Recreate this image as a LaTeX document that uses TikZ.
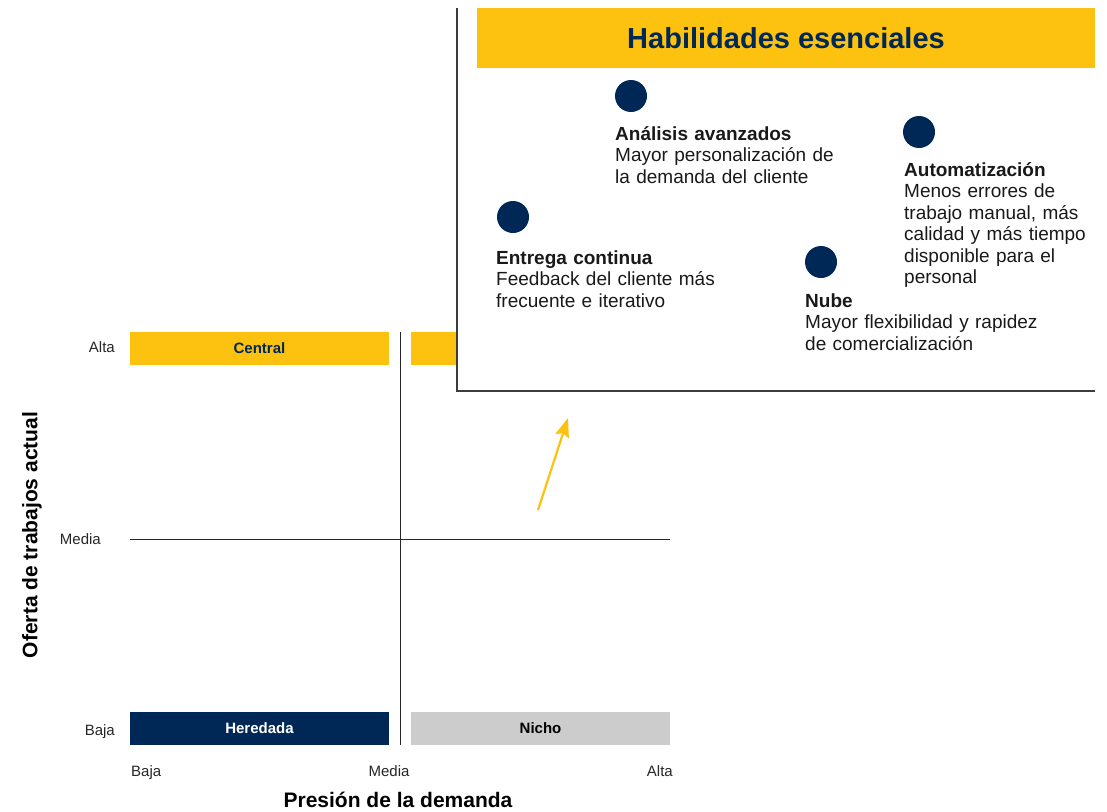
\documentclass[tikz,border=0pt]{standalone}
\usepackage{fontspec}
\setmainfont{Liberation Sans}
\usepackage{tikz}
\usetikzlibrary{arrows.meta,positioning,calc}
\definecolor{skyellow}{RGB}{253,193,15}
\definecolor{sknavy}{RGB}{0,40,86}
\definecolor{skgray}{RGB}{204,204,204}
\definecolor{skline}{RGB}{60,60,60}
\def \lbl {\fontsize{15}{17}\selectfont}
\def \body {\fontsize{19}{21.5}\selectfont}

\begin{document}
\begin{tikzpicture}[x=1pt, y=-1pt,
    bar/.style={minimum width=259pt, minimum height=33pt, inner sep=0pt, font=\lbl\bfseries},
    tick/.style={font=\lbl, inner sep=0pt, text=black!85},
    axis/.style={font=\fontsize{21}{23}\selectfont\bfseries, inner sep=0pt},
    dot/.style={circle, fill=sknavy, minimum size=32pt, inner sep=0pt},
    item/.style={anchor=base west, align=left, text width=300pt, inner sep=0pt, font=\body, text=black!90}]
        \useasboundingbox (0,0) rectangle (1107,811);

        % Quadrant bars
        \node[bar, fill=skyellow, text=sknavy] (central) at (259.5,348.5) {Central};
        \node[bar, fill=skyellow] (critica) at (540.5,348.5) {};
        \node[bar, fill=sknavy, text=white] (heredada) at (259.5,728.5) {Heredada};
        \node[bar, fill=skgray, text=black] (nicho) at (540.5,728.5) {Nicho};

        % Axes lines
        \draw[black!85] (400,332) -- (400,745);
        \draw[black!85] (130,539) -- (670,539);

        % Tick labels
        \node[tick, anchor=base east] (yalta) at (115,352.5) {Alta};
        \node[tick, anchor=base east] (ymedia) at (101,544.5) {Media};
        \node[tick, anchor=base east] (ybaja) at (115,735.5) {Baja};
        \node[tick, anchor=base west] (xbaja) at (131,776.5) {Baja};
        \node[tick, anchor=base] (xmedia) at (389,776.5) {Media};
        \node[tick, anchor=base east] (xalta) at (673,776.5) {Alta};

        % Axis titles
        \node[axis] (xtitle) at (398,800) {Presión de la demanda};
        \node[axis, rotate=90] (ytitle) at (32,535) {Oferta de trabajos actual};

        % Arrow to the callout
        \coordinate (arrfrom) at (538,510);
        \coordinate (arrto) at (568,418);
        \draw[-{Stealth[length=19pt, width=14pt, inset=3pt]}, skyellow, line width=2.2pt] (arrfrom) -- (arrto);

        % Callout box
        \fill[white] (457,8) rectangle (1095,391);
        \draw[skline, line width=1.5pt] (457,8) -- (457,391) -- (1095,391);
        \node[fill=skyellow, minimum width=618pt, minimum height=60pt, inner sep=0pt,
              text=sknavy, font=\fontsize{29}{32}\selectfont\bfseries] (title) at (786,38) {Habilidades esenciales};

        % Skills
        \node[dot] (d1) at (631,96) {};
        \node[item] (analisis) at (615,140) {\textbf{Análisis avanzados}\\Mayor personalización de\\la demanda del cliente};

        \node[dot] (d2) at (919,132) {};
        \node[item] (auto) at (904,176) {\textbf{Automatización}\\Menos errores de\\trabajo manual, más\\calidad y más tiempo\\disponible para el\\personal};

        \node[dot] (d3) at (513,217) {};
        \node[item] (entrega) at (496,264) {\textbf{Entrega continua}\\Feedback del cliente más\\frecuente e iterativo};

        \node[dot] (d4) at (821,262) {};
        \node[item] (nube) at (805,307) {\textbf{Nube}\\Mayor flexibilidad y rapidez\\de comercialización};

    \end{tikzpicture}
\end{document}
